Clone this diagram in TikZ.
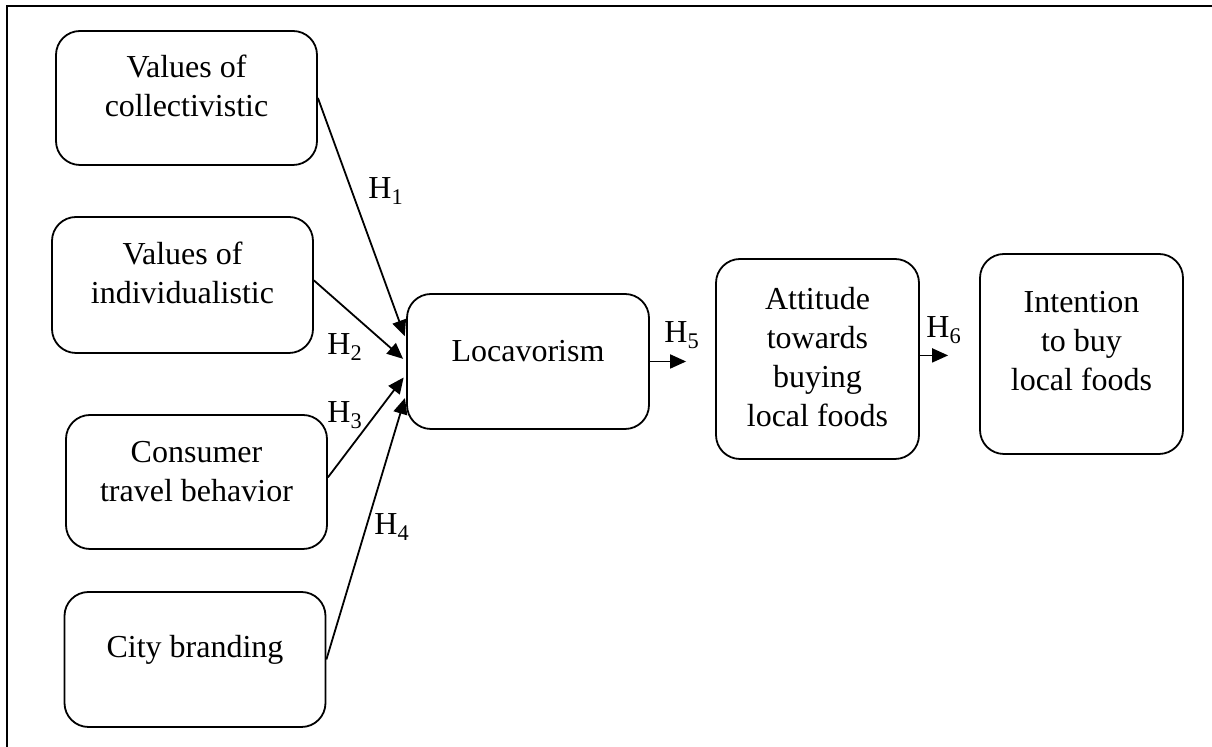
\documentclass[tikz,border=0pt]{standalone}
\usepackage{fontspec}
\setmainfont{Liberation Serif}
\usetikzlibrary{arrows.meta}

\tikzset{
  box/.style 2 args={draw, line width=0.9pt, rounded corners=12pt, align=center,
    inner sep=0pt, minimum width=130.5pt, text height=#1, text depth=#2},
  hyp/.style={anchor=base west, inner sep=0pt},
}

\begin{document}
\begin{tikzpicture}[x=0.5pt, y=-0.5pt, >={Triangle[length=8pt,width=7pt]},
    font=\fontsize{16}{19.5}\selectfont]
            \useasboundingbox (0,0) rectangle (1212,747);
            \draw[line width=1.3pt] (1212,6) -- (7,6) -- (7,747);

            \node (coll) [box={43pt}{24pt}] at (186.5,98) {Values of\\collectivistic};
            \node (indiv) [box={43.5pt}{24.5pt}] at (182.5,285) {Values of\\individualistic};
            \node (cons) [box={43.5pt}{23.5pt}] at (196.5,482) {Consumer\\travel behavior};
            \node (city) [box={33pt}{34.5pt}] at (195,659.5) {City branding};
            \node (loca) [box={34pt}{33.5pt}, minimum width=121pt] at (528,361.5) {Locavorism};
            \node (att) [box={84pt}{16pt}, minimum width=101.5pt] at (817.5,359)
                {Attitude\\towards\\buying\\local foods};
            \node (intent) [box={68.5pt}{31.5pt}, minimum width=101.5pt] at (1081.5,354)
                {Intention\\to buy\\local foods};

            \node (h1) [hyp] at (368,199) {H\textsubscript{1}};
            \node (h2) [hyp] at (327,355) {H\textsubscript{2}};
            \node (h3) [hyp] at (327,423) {H\textsubscript{3}};
            \node (h4) [hyp] at (374,535) {H\textsubscript{4}};
            \node (h5) [hyp] at (664,343) {H\textsubscript{5}};
            \node (h6) [hyp] at (926,338) {H\textsubscript{6}};

            \path[->, line width=0.9pt, shorten >=2pt]
            (coll.east) edge (loca.170)
            (indiv.2) edge (loca.180)
            (cons.2) edge (loca.186)
            (city.east) edge (loca.195)
            (loca.east) edge[shorten >=14.5pt] (loca.east -| att.west)
            (att.2) edge[shorten >=15.5pt] (att.2 -| intent.west);

        \end{tikzpicture}
\end{document}
